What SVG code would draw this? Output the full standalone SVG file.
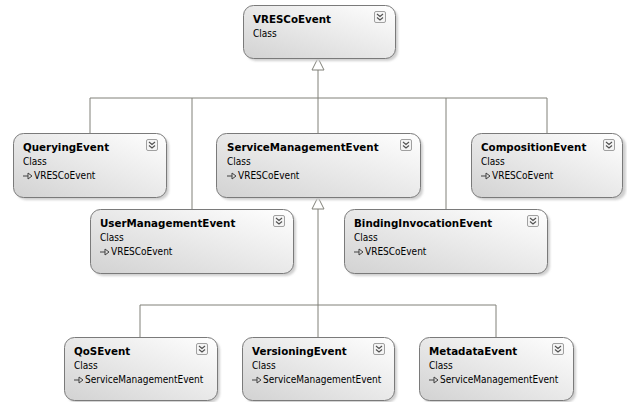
<svg xmlns="http://www.w3.org/2000/svg" width="627" height="402" viewBox="0 0 627 402">
  <style>
    .box { fill: url(#boxFill); stroke: #7a7a7a; stroke-width: 1; }
    .shadow { fill: #cfcfcf; filter: url(#soft); }
    .title { font-family: "DejaVu Sans", Verdana, sans-serif; font-weight: bold; font-size: 10.3px; fill: #000; }
    .kind { font-family: "DejaVu Sans Condensed", "DejaVu Sans", Verdana, sans-serif; font-size: 10px; fill: #000; }
    .wire { fill: none; stroke: #808078; stroke-width: 1; }
    .head { fill: #ffffff; stroke: #808078; stroke-width: 1; }
    .tog { fill: #f4f4f4; stroke: #a0a0a0; stroke-width: 1; }
    .chev { fill: none; stroke: #505050; stroke-width: 1.1; }
    .inh { fill: none; stroke: #404040; stroke-width: 1; }
  </style>
  <defs>
    <linearGradient id="boxFill" x1="0" y1="1" x2="1" y2="0">
      <stop offset="0" stop-color="#d2d2d2"/>
      <stop offset="0.55" stop-color="#ebebeb"/>
      <stop offset="1" stop-color="#ffffff"/>
    </linearGradient>
    <filter id="soft" x="-10%" y="-10%" width="120%" height="130%">
      <feGaussianBlur stdDeviation="1"/>
    </filter>
    <!-- collapse toggle: rounded square with double chevron -->
    <g id="toggle">
      <rect class="tog" x="0.5" y="0.5" width="11" height="11" rx="1.5"/>
      <path class="chev" d="M3 3 L6 5.5 L9 3 M3 6.5 L6 9 L9 6.5"/>
    </g>
    <!-- inheritance glyph in front of the base class name -->
    <g id="inherit">
      <path class="inh" d="M0 0 H5"/>
      <path class="inh" d="M5 -3 L9 0 L5 3 Z"/>
    </g>
  </defs>

  <!-- connectors -->
  <g id="connectors">
    <path class="wire" d="M318 70 V98 M90 98 H547 M90 98 V133 M192 98 V209 M318 98 V133 M446 98 V209 M547 98 V133"/>
    <path class="head" d="M318 58 L324 70 L312 70 Z"/>
    <path class="wire" d="M318 209 V337 M140 305 H496 M140 305 V337 M496 305 V337"/>
    <path class="head" d="M318 197 L324 209 L312 209 Z"/>
  </g>

  <g id="VRESCoEvent">
    <rect class="shadow" x="246" y="8" width="152" height="53" rx="10"/>
    <rect class="box" x="243.5" y="5.5" width="152" height="53" rx="10"/>
    <text class="title" x="253" y="23">VRESCoEvent</text>
    <text class="kind" x="253" y="37">Class</text>
    <use href="#toggle" x="374" y="11"/>
  </g>

  <g id="QueryingEvent">
    <rect class="shadow" x="16" y="136" width="153" height="64" rx="10"/>
    <rect class="box" x="13.5" y="133.5" width="153" height="64" rx="10"/>
    <text class="title" x="23" y="151">QueryingEvent</text>
    <text class="kind" x="23" y="165">Class</text>
    <use href="#inherit" x="23" y="176"/>
    <text class="kind" x="34" y="179">VRESCoEvent</text>
    <use href="#toggle" x="146" y="139"/>
  </g>

  <g id="ServiceManagementEvent">
    <rect class="shadow" x="219" y="136" width="204" height="64" rx="10"/>
    <rect class="box" x="216.5" y="133.5" width="204" height="64" rx="10"/>
    <text class="title" x="227" y="151">ServiceManagementEvent</text>
    <text class="kind" x="227" y="165">Class</text>
    <use href="#inherit" x="227" y="176"/>
    <text class="kind" x="238" y="179">VRESCoEvent</text>
    <use href="#toggle" x="400" y="139"/>
  </g>

  <g id="CompositionEvent">
    <rect class="shadow" x="474" y="136" width="152" height="64" rx="10"/>
    <rect class="box" x="471.5" y="133.5" width="151" height="64" rx="10"/>
    <text class="title" x="481" y="151">CompositionEvent</text>
    <text class="kind" x="481" y="165">Class</text>
    <use href="#inherit" x="481" y="176"/>
    <text class="kind" x="492" y="179">VRESCoEvent</text>
    <use href="#toggle" x="603" y="139"/>
  </g>

  <g id="UserManagementEvent">
    <rect class="shadow" x="93" y="212" width="203" height="64" rx="10"/>
    <rect class="box" x="90.5" y="209.5" width="203" height="64" rx="10"/>
    <text class="title" x="100" y="227">UserManagementEvent</text>
    <text class="kind" x="100" y="241">Class</text>
    <use href="#inherit" x="100" y="252"/>
    <text class="kind" x="111" y="255">VRESCoEvent</text>
    <use href="#toggle" x="273" y="215"/>
  </g>

  <g id="BindingInvocationEvent">
    <rect class="shadow" x="347" y="212" width="203" height="64" rx="10"/>
    <rect class="box" x="344.5" y="209.5" width="203" height="64" rx="10"/>
    <text class="title" x="354" y="227">BindingInvocationEvent</text>
    <text class="kind" x="354" y="241">Class</text>
    <use href="#inherit" x="354" y="252"/>
    <text class="kind" x="365" y="255">VRESCoEvent</text>
    <use href="#toggle" x="527" y="215"/>
  </g>

  <g id="QoSEvent">
    <rect class="shadow" x="67" y="340" width="153" height="63" rx="10"/>
    <rect class="box" x="64.5" y="337.5" width="153" height="63" rx="10"/>
    <text class="title" x="74" y="355">QoSEvent</text>
    <text class="kind" x="74" y="369">Class</text>
    <use href="#inherit" x="74" y="380"/>
    <text class="kind" x="85" y="383">ServiceManagementEvent</text>
    <use href="#toggle" x="196" y="343"/>
  </g>

  <g id="VersioningEvent">
    <rect class="shadow" x="245" y="340" width="152" height="63" rx="10"/>
    <rect class="box" x="242.5" y="337.5" width="152" height="63" rx="10"/>
    <text class="title" x="252" y="355">VersioningEvent</text>
    <text class="kind" x="252" y="369">Class</text>
    <use href="#inherit" x="252" y="380"/>
    <text class="kind" x="263" y="383">ServiceManagementEvent</text>
    <use href="#toggle" x="373" y="343"/>
  </g>

  <g id="MetadataEvent">
    <rect class="shadow" x="422" y="340" width="154" height="63" rx="10"/>
    <rect class="box" x="419.5" y="337.5" width="154" height="63" rx="10"/>
    <text class="title" x="429" y="355">MetadataEvent</text>
    <text class="kind" x="429" y="369">Class</text>
    <use href="#inherit" x="429" y="380"/>
    <text class="kind" x="440" y="383">ServiceManagementEvent</text>
    <use href="#toggle" x="552" y="343"/>
  </g>
</svg>
